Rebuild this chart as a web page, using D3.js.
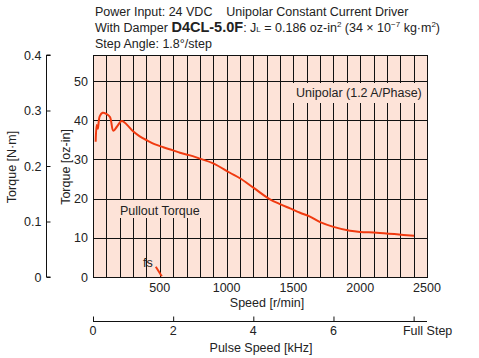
<!DOCTYPE html>
<html><head><meta charset="utf-8">
<script src="https://cdn.jsdelivr.net/npm/d3@7"></script>
<style>
body{margin:0;background:#fff;}
text{font-family:"Liberation Sans Narrow","Arial Narrow","Liberation Sans",sans-serif;fill:#222;}
</style></head><body>
<svg id="c" width="479" height="358"></svg>
<script>
// Data (speed r/min, torque oz-in)
const speedRpm  = [20, 28, 36, 50, 72, 100, 127, 152, 180, 215, 250, 302, 350, 402, 460, 526, 600, 651, 720, 800, 900, 1025, 1100, 1200, 1325, 1400, 1475, 1550, 1624, 1700, 1800, 1924, 2000, 2124, 2273, 2403];
const torqueOz  = [34.5, 38.8, 37.8, 41.0, 41.9, 41.6, 40.8, 37.3, 38.4, 39.8, 39.0, 37.1, 35.9, 34.9, 33.9, 33.1, 32.3, 31.7, 31.1, 30.2, 29.0, 26.6, 25.2, 22.8, 19.8, 18.6, 17.5, 16.4, 15.4, 14.0, 12.8, 11.8, 11.5, 11.3, 10.9, 10.5];
const fsRpm     = [470, 515];
const fsTorque  = [2.6, 0.2];
const speedTicks = [500, 1000, 1500, 2000, 2500];
const ozTicks    = [0, 10, 20, 30, 40, 50];
const nmTicks    = [0, 0.1, 0.2, 0.3, 0.4];
const khzTicks   = [0, 2, 4, 6, 8];
const khzLabels  = ["0", "2", "4", "6", "Full Step"];
const titleLines = ["Power Input: 24 VDC    Unipolar Constant Current Driver"];

const svg = d3.select("#c");
const L = 93, R = 427, T = 55, B = 277;
const OZ_PER_NM = 141.612;
const x = d3.scaleLinear().domain([0, 2500]).range([L, R]);
const y = d3.scaleLinear().domain([0, 0.4 * OZ_PER_NM]).range([B, T]);
const yNm = d3.scaleLinear().domain([0, 0.4]).range([B, T]);
const xK = d3.scaleLinear().domain([0, 2500 * 200 / 60 / 1000]).range([L, R]);

// background
svg.append("rect").attr("x", L).attr("y", T).attr("width", R - L).attr("height", B - T).attr("fill", "#fde3d8");

// grid
const g = svg.append("g").attr("stroke", "#111").attr("stroke-width", 1);
d3.range(100, 2500, 100).forEach(v => {
  g.append("line").attr("x1", Math.round(x(v)) + 0.5).attr("x2", Math.round(x(v)) + 0.5).attr("y1", T).attr("y2", B);
});
ozTicks.filter(v => v > 0).forEach(v => {
  g.append("line").attr("x1", L).attr("x2", R).attr("y1", Math.round(y(v)) + 0.5).attr("y2", Math.round(y(v)) + 0.5);
});
svg.append("rect").attr("x", L + 0.5).attr("y", T + 0.5).attr("width", R - L).attr("height", B - T)
  .attr("fill", "none").attr("stroke", "#111");

// label boxes
svg.append("rect").attr("x", 293).attr("y", 83).attr("width", 127).attr("height", 20).attr("fill", "#fde3d8");
svg.append("rect").attr("x", 116).attr("y", 200).attr("width", 86).attr("height", 18).attr("fill", "#fde3d8");

const fsz = 12.5;
svg.append("text").attr("x", 296).attr("y", 97).attr("font-size", fsz).text("Unipolar (1.2 A/Phase)");
svg.append("text").attr("x", 120).attr("y", 215).attr("font-size", fsz).text("Pullout Torque");
svg.append("text").attr("x", 143).attr("y", 267).attr("font-size", fsz).text("fs");

// curve
const line = d3.line().x(d => x(d[0])).y(d => y(d[1])).curve(d3.curveCatmullRom);
svg.append("path").datum(speedRpm.map((s, i) => [s, torqueOz[i]])).attr("d", line)
  .attr("fill", "none").attr("stroke", "#f03a10").attr("stroke-width", 2);
svg.append("path").datum(fsRpm.map((s, i) => [s, fsTorque[i]])).attr("d", d3.line().x(d => x(d[0])).y(d => y(d[1])))
  .attr("fill", "none").attr("stroke", "#f03a10").attr("stroke-width", 2);

// oz-in tick labels
ozTicks.forEach(v => {
  svg.append("text").attr("x", 88).attr("y", y(v) + 4.5).attr("text-anchor", "end").attr("font-size", fsz).text(v);
});
// speed tick labels
speedTicks.forEach(v => {
  svg.append("text").attr("x", x(v)).attr("y", 292).attr("text-anchor", "middle").attr("font-size", fsz).text(v);
});
svg.append("text").attr("x", x(1250) + 7).attr("y", 307).attr("text-anchor", "middle").attr("font-size", fsz).text("Speed [r/min]");

// N·m axis
const nmAxis = d3.axisRight(yNm).tickValues(nmTicks).tickSize(4).tickFormat(d => d === 0 ? "0" : d3.format(".1f")(d));
const ga = svg.append("g").attr("transform", "translate(46.5,0)").call(nmAxis);
ga.select(".domain").attr("stroke", "#111").attr("d", `M4,${T}H0V${B}H4`);
ga.selectAll(".tick line").attr("stroke", "#111");
ga.selectAll(".tick text").attr("x", -5).attr("text-anchor", "end").attr("font-size", fsz)
  .attr("font-family", null).attr("fill", "#222");

// kHz axis
const kAxis = d3.axisTop(xK).tickValues(khzTicks).tickSize(5).tickFormat((d, i) => "");
const gk = svg.append("g").attr("transform", "translate(0,321.5)").call(kAxis);
gk.select(".domain").attr("d", `M${L},0H${R}`).attr("stroke", "#111");
gk.selectAll(".tick line").attr("stroke", "#111");
khzTicks.forEach((v, i) => {
  svg.append("text").attr("x", xK(v) + (i === 4 ? 14 : 0)).attr("y", 335).attr("text-anchor", "middle").attr("font-size", fsz).text(khzLabels[i]);
});
svg.append("text").attr("x", 261).attr("y", 352).attr("text-anchor", "middle").attr("font-size", fsz).text("Pulse Speed [kHz]");

// y axis titles
svg.append("text").attr("transform", "translate(16,167) rotate(-90)").attr("text-anchor", "middle").attr("font-size", fsz).text("Torque [N·m]");
svg.append("text").attr("transform", "translate(70,167) rotate(-90)").attr("text-anchor", "middle").attr("font-size", fsz).text("Torque [oz-in]");

// header
svg.append("text").attr("x", 95).attr("y", 16).attr("font-size", 12.5).attr("xml:space", "preserve").text(titleLines[0]);
const t2 = svg.append("text").attr("x", 95).attr("y", 32).attr("font-size", 12.5);
t2.append("tspan").text("With Damper ");
t2.append("tspan").attr("font-weight", "bold").attr("font-family", "'Liberation Sans','Arial',sans-serif").attr("font-size", 14.5).text("D4CL-5.0F");
t2.append("tspan").text(": J");
t2.append("tspan").attr("font-size", 8).text("L");
t2.append("tspan").text(" = 0.186 oz-in");
t2.append("tspan").attr("font-size", 8).attr("dy", -5).text("2");
t2.append("tspan").attr("dy", 5).text(" (34 × 10");
t2.append("tspan").attr("font-size", 8).attr("dy", -5).text("−7");
t2.append("tspan").attr("dy", 5).text(" kg·m");
t2.append("tspan").attr("font-size", 8).attr("dy", -5).text("2");
t2.append("tspan").attr("dy", 5).text(")");
svg.append("text").attr("x", 95).attr("y", 48).attr("font-size", 12.5).text("Step Angle: 1.8°/step");
</script>
</body></html>
